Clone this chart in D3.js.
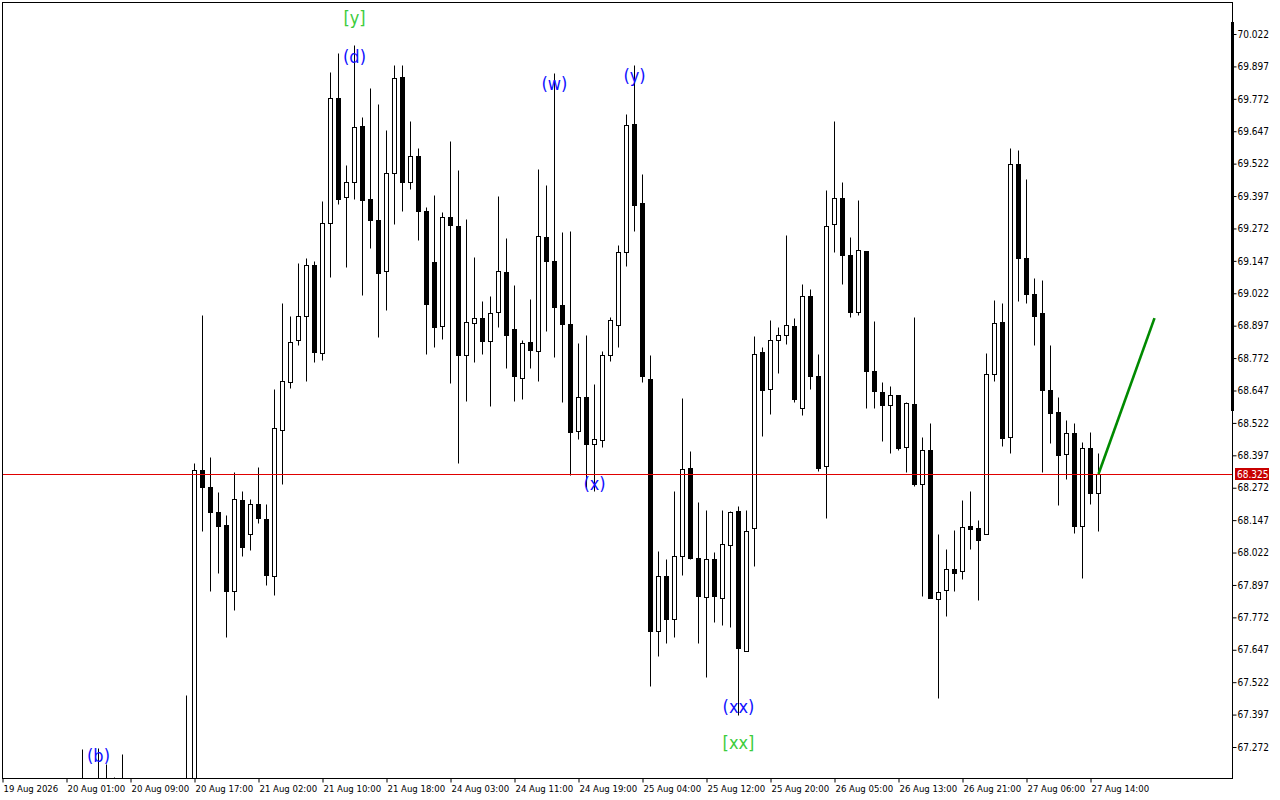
<!DOCTYPE html>
<html><head><meta charset="utf-8">
<script src="https://cdn.jsdelivr.net/npm/d3@7"></script>
<style>body{margin:0;background:#fff;} svg{display:block}</style>
</head><body>
<svg id="c" width="1280" height="800"></svg>
<script>
// ---- data (hourly bars) ----
const opens = [66.90,66.98,67.02,66.99,66.93,66.97,67.05,67.01,67.06,67.03,
67.08,67.12,67.04,67.10,67.06,67.01,67.09,67.02,66.95,66.99,
67.03,67.00,67.05,67.02,67.08,68.339,68.276,68.177,68.130,67.875,
68.226,68.093,68.210,68.152,67.932,68.496,68.681,68.843,68.934,69.131,
68.790,69.293,69.777,69.392,69.452,69.666,69.384,69.306,69.108,69.485,
69.855,69.452,69.553,69.341,69.143,68.895,69.316,69.283,68.782,68.909,
68.928,68.837,68.950,69.104,68.884,68.695,68.833,68.798,69.238,69.146,
68.977,68.905,68.490,68.621,68.440,68.457,68.782,68.899,69.180,69.674,
69.370,68.693,67.719,67.932,67.764,68.008,68.350,68.002,67.852,67.998,
67.848,68.052,68.181,67.644,68.115,68.794,68.652,68.841,68.860,68.895,
68.580,69.010,68.701,68.354,69.289,69.390,69.170,68.950,69.184,68.722,
68.642,68.590,68.629,68.428,68.594,68.288,68.416,67.844,67.879,67.957,
67.949,68.126,68.115,68.093,68.712,68.913,68.467,69.520,69.158,69.018,
68.946,68.648,68.564,68.401,68.484,68.126,68.426,68.251];
const highs = [67.05,67.08,67.10,67.06,67.02,67.12,67.14,67.09,67.13,67.11,
67.266,67.14,67.270,67.207,67.157,67.246,67.13,67.08,67.04,67.07,
67.12,67.09,67.11,67.472,68.368,68.940,68.391,68.255,68.165,68.331,
68.259,68.230,68.352,68.208,68.652,68.983,68.934,69.139,69.158,69.147,
69.378,69.875,69.949,69.518,69.978,69.701,69.812,69.752,69.651,69.902,
69.902,69.686,69.581,69.353,69.400,69.337,69.608,69.497,69.310,69.160,
68.991,69.012,69.396,69.234,69.055,68.843,68.999,69.501,69.439,69.871,
69.257,69.261,68.831,68.860,68.673,68.800,68.930,69.207,69.713,69.904,
69.481,68.782,68.027,67.998,68.259,68.619,68.414,68.218,68.187,68.025,
68.187,68.183,68.202,68.187,68.858,68.816,68.917,68.890,69.246,68.928,
69.059,69.038,68.786,69.419,69.686,69.450,69.238,69.382,69.184,68.915,
68.679,68.666,68.629,68.601,68.932,68.469,68.521,68.093,68.035,68.109,
68.226,68.259,68.148,68.792,68.995,68.983,69.581,69.573,69.462,69.082,
69.074,68.821,68.623,68.533,68.521,68.449,68.488,68.407];
const lows = [66.82,66.90,66.95,66.88,66.85,66.92,66.98,66.94,66.99,66.96,
67.02,67.00,66.98,67.03,66.97,66.95,66.98,66.90,66.86,66.91,
66.96,66.93,66.97,66.94,67.00,68.107,67.873,67.943,67.698,67.801,
68.009,68.033,68.136,67.895,67.860,68.288,68.658,68.821,68.683,68.755,
68.763,69.086,69.368,69.123,69.384,69.014,69.197,68.854,68.958,69.289,
69.339,69.423,69.228,68.788,68.814,68.845,68.677,68.366,68.605,68.757,
68.788,68.586,68.891,68.734,68.605,68.613,68.734,68.683,68.878,68.775,
68.601,68.323,68.461,68.276,68.259,68.428,68.759,68.814,69.127,69.261,
68.681,67.507,67.624,67.675,67.698,67.937,67.998,67.675,67.542,67.754,
67.743,67.735,67.396,67.644,67.969,68.471,68.557,68.714,68.825,68.603,
68.551,68.652,68.337,68.156,69.182,69.057,68.930,68.938,68.580,68.580,
68.451,68.407,68.416,68.333,68.280,67.854,67.848,67.462,67.778,67.873,
67.920,68.037,67.840,68.093,68.683,68.432,68.405,68.993,68.983,68.823,
68.331,68.446,68.204,68.307,68.099,67.922,68.208,68.107];
const closes = [66.98,67.02,66.99,66.93,66.97,67.05,67.01,67.06,67.03,67.08,
67.12,67.04,67.10,67.06,67.01,67.09,67.02,66.95,66.99,67.03,
67.00,67.05,67.02,67.08,68.339,68.276,68.177,68.126,67.875,68.230,
68.045,68.210,68.157,67.934,68.502,68.683,68.833,68.934,69.131,68.794,
69.293,69.777,69.384,69.452,69.662,69.382,69.306,69.100,69.485,69.851,
69.452,69.553,69.339,68.981,68.891,69.316,69.285,68.782,68.911,68.928,
68.837,68.946,69.108,68.860,68.701,68.829,68.802,69.242,69.146,68.969,
68.903,68.486,68.621,68.440,68.461,68.784,68.917,69.180,69.670,69.363,
68.701,67.719,67.932,67.764,68.009,68.346,68.002,67.856,67.998,67.856,
68.056,68.177,67.655,68.107,68.786,68.648,68.841,68.862,68.899,68.615,
69.010,68.701,68.350,69.281,69.390,69.170,68.950,69.187,68.722,68.646,
68.590,68.629,68.424,68.597,68.288,68.416,67.848,67.871,67.957,67.945,
68.122,68.111,68.072,68.712,68.907,68.463,69.520,69.158,69.018,68.936,
68.648,68.562,68.397,68.484,68.126,68.426,68.251,68.325];

const priceTicks = [70.022,69.897,69.772,69.647,69.522,69.397,69.272,69.147,69.022,68.897,68.772,68.647,
  68.522,68.397,68.272,68.147,68.022,67.897,67.772,67.647,67.522,67.397,67.272];
const timeTickLabels = ["19 Aug 2026","20 Aug 01:00","20 Aug 09:00","20 Aug 17:00","21 Aug 02:00","21 Aug 10:00",
  "21 Aug 18:00","24 Aug 03:00","24 Aug 11:00","24 Aug 19:00","25 Aug 04:00","25 Aug 12:00","25 Aug 20:00",
  "26 Aug 05:00","26 Aug 13:00","26 Aug 21:00","27 Aug 06:00","27 Aug 14:00"];
const currentPrice = 68.325;

// wave labels
const waveTexts  = ["[y]","(d)","(w)","(y)","(x)","(xx)","[xx]","(b)"];
const waveBars   = [44,44,69,79,74,92,92,12];
const wavePrices = [70.084,69.937,69.833,69.862,68.290,67.430,67.288,67.238];
const waveColors = ["#3ccc3c","#1010ff","#1010ff","#1010ff","#1010ff","#1010ff","#3ccc3c","#1010ff"];

// projection line (bar index, price)
const projBars = [137,144];
const projPrices = [68.325,68.926];

// ---- bar times ----
const barTimes = [];
{ let t = new Date(2026,7,19,16);
  while (barTimes.length < opens.length) {
    const d = t.getDay();
    if (t.getHours() !== 0 && d !== 0 && d !== 6) barTimes.push(new Date(t));
    t = new Date(t.getTime() + 3600000);
  } }
const fmtH = d3.timeFormat("%d %b %H:%M"), fmtY = d3.timeFormat("%d %b %Y");
const tickIdx = timeTickLabels.map(L => barTimes.findIndex(t => fmtH(t) === L || fmtY(t) === L));

// ---- scales ----
const L = 2.5, R = 1232.5, T = 2.5, B = 778.5;
const x = d3.scaleLinear().domain([0, 153.75]).range([L, R]);
const y = d3.scaleLinear().domain([67.272, 70.022]).range([747, 34]);
const yr = v => Math.round(y(v)) + 0.5;

const svg = d3.select("#c");
const font = "'DejaVu Sans Condensed', 'DejaVu Sans', sans-serif";
const waveFont = "'DejaVu Sans Condensed', 'DejaVu Sans', sans-serif";

svg.append("defs").append("clipPath").attr("id","plot")
  .append("rect").attr("x", L).attr("y", T).attr("width", R - L).attr("height", B - T);

const g = svg.append("g").attr("clip-path","url(#plot)");

// candles
const idx = d3.range(opens.length);
g.selectAll("line.wick").data(idx).join("line").attr("class","wick")
  .attr("x1", i => x(i)).attr("x2", i => x(i))
  .attr("y1", i => yr(highs[i])).attr("y2", i => yr(lows[i]))
  .attr("stroke","#000").attr("stroke-width",1);
g.selectAll("rect.body").data(idx).join("rect").attr("class","body")
  .attr("x", i => x(i) - 2).attr("width", 4)
  .attr("y", i => yr(Math.max(opens[i], closes[i])))
  .attr("height", i => Math.max(0, yr(Math.min(opens[i], closes[i])) - yr(Math.max(opens[i], closes[i]))))
  .attr("fill", i => closes[i] >= opens[i] ? "#fff" : "#000")
  .attr("stroke","#000").attr("stroke-width",1);

// current price line
g.append("line").attr("x1", L).attr("x2", R).attr("y1", yr(currentPrice)).attr("y2", yr(currentPrice))
  .attr("stroke","#e00000").attr("stroke-width",1);

// projection line
g.append("line")
  .attr("x1", x(projBars[0])).attr("y1", y(projPrices[0]))
  .attr("x2", x(projBars[1])).attr("y2", y(projPrices[1]))
  .attr("stroke","#008a00").attr("stroke-width",2.6);

// wave labels
g.selectAll("text.wave").data(waveTexts).join("text").attr("class","wave")
  .attr("x", (d,i) => x(waveBars[i])).attr("y", (d,i) => y(wavePrices[i]))
  .attr("text-anchor","middle").attr("dominant-baseline","central")
  .attr("fill", (d,i) => waveColors[i])
  .attr("font-family", waveFont).attr("font-stretch","condensed").attr("font-size", 18)
  .text(d => d);

// frame
svg.append("rect").attr("x", L).attr("y", T).attr("width", R - L).attr("height", B - T)
  .attr("fill","none").attr("stroke","#000").attr("stroke-width",1);
svg.append("rect").attr("x", 1231).attr("y", 22).attr("width", 3).attr("height", 389).attr("fill","#000");

// y axis
const ya = svg.append("g").attr("transform", `translate(${R},0)`)
  .call(d3.axisRight(y).tickValues(priceTicks).tickFormat(d3.format(".3f")).tickSize(4).tickPadding(1));
ya.select(".domain").remove();
ya.selectAll("text").attr("font-family", font).attr("font-stretch","condensed").attr("font-size", 10).attr("fill","#000");
ya.selectAll("line").attr("stroke","#000");

// price tag
const py = Math.round(y(currentPrice));
svg.append("rect").attr("x", 1235).attr("y", py - 6).attr("width", 34).attr("height", 12).attr("fill","#c80000");
svg.append("text").attr("x", 1237).attr("y", py).attr("dominant-baseline","central")
  .attr("font-family", font).attr("font-stretch","condensed").attr("font-size", 10).attr("fill","#fff").text(currentPrice.toFixed(3));

// x axis
const xa = svg.append("g").attr("transform", `translate(0,${B})`)
  .call(d3.axisBottom(x).tickValues(tickIdx).tickFormat((d,i) => timeTickLabels[i]).tickSize(4).tickPadding(3));
xa.select(".domain").remove();
xa.selectAll("line").attr("stroke","#000");
xa.selectAll("text").attr("text-anchor","start").attr("dx", 0.5)
  .attr("font-family", font).attr("font-stretch","condensed").attr("font-size", 9.5).attr("fill","#000");
</script>
</body></html>
